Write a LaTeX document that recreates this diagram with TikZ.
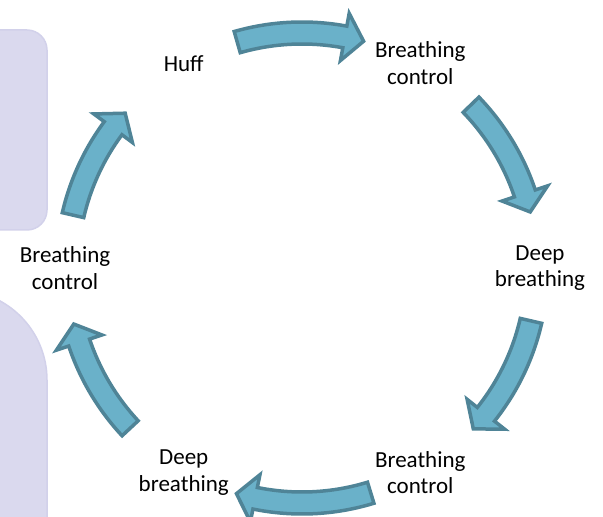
\documentclass[tikz,border=0pt]{standalone}
\usepackage{fontspec}
\setmainfont{Carlito}
\usepackage{tikz}
\usetikzlibrary{calc}

\definecolor{arrowfill}{HTML}{6AB1C9}
\definecolor{arrowline}{HTML}{4F8497}
\definecolor{panelfill}{HTML}{DAD9EE}
\definecolor{panelline}{HTML}{D2D1EA}

\begin{document}
\begin{tikzpicture}[x=1pt, y=1pt,
  steplabel/.style={font=\fontsize{23}{26.5}\selectfont, align=center, inner sep=0pt},
  cyclearrow/.style={fill=arrowfill, draw=arrowline, line width=3.5pt, line join=miter},
  panel/.style={fill=panelfill, draw=panelline, line width=1.5pt}]

\clip (0,0) rectangle (603,517);

% side panels
\draw[panel, rounded corners=20] (-30,287) rectangle (47,487);
\draw[panel] (47,-40) -- (47,137) arc[start angle=0, end angle=90, radius=90] -- (-60,227) -- (-60,-40) -- cycle;

% cycle centre
\coordinate (c) at (302,249);

% steps
\node[steplabel] (huff)    at ($(c)+(120:236.5)$) {Huff};
\node[steplabel] (ctrlA)   at ($(c)+(60:236.5)$)  {Breathing\\control};
\node[steplabel] (deepA)   at ($(c)+(0:238)$)     {Deep\\breathing};
\node[steplabel] (ctrlB)   at ($(c)+(-60:236.5)$) {Breathing\\control};
\node[steplabel] (deepB)   at ($(c)+(-120:236.5)$) {Deep\\breathing};
\node[steplabel] (ctrlC)   at ($(c)+(180:237)$)   {Breathing\\control};

% arrows between steps (tail angle / tip angle)
\foreach \t/\p in {106/74, 44/13, -13/-44, -73/-107, -137/-167, 167/138}
{
  \pgfmathsetmacro{\b}{\p+5.5}
  \pgfmathsetmacro{\q}{\p+0.8}
  \draw[cyclearrow, shift={(c)}]
    (\t:246) arc[start angle=\t, end angle=\b, radius=246]
    -- (\b:259) -- (\q:235) -- (\b:211) -- (\b:224)
    arc[start angle=\b, end angle=\t, radius=224] -- cycle;
}

\end{tikzpicture}
\end{document}
